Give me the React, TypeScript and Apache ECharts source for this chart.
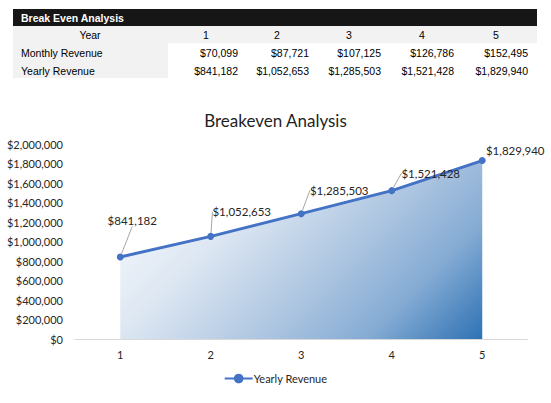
import React, { useEffect, useRef } from 'react';
import * as echarts from 'echarts';

// data
const years = ['1', '2', '3', '4', '5'];
const monthlyRevenue = [70099, 87721, 107125, 126786, 152495];
const yearlyRevenue = [841182, 1052653, 1285503, 1521428, 1829940];
const yTicks = { min: 0, max: 2000000, interval: 200000 };

// layout constants for the table and the data labels
const colRight = [238, 309, 381, 454, 528];
const labelShift = [
  [12, -22],
  [31, -10],
  [38, -9],
  [39, -3],
  [33, 4]
];

const money = (v: number) => '$' + v.toLocaleString('en-US');

const tableFont = '"Liberation Sans", Arial, sans-serif';
const chartFont = 'Lato, "Open Sans", sans-serif';

const tableText = (text: string, x: number, y: number, align = 'left', extra: any = {}) => ({
  type: 'text',
  x,
  y,
  silent: true,
  style: {
    text,
    fill: '#000',
    fontSize: 10.5,
    fontFamily: tableFont,
    align,
    verticalAlign: 'middle',
    ...extra
  }
});

const buildTable = () => {
  const els: any[] = [
    { type: 'rect', silent: true, shape: { x: 13, y: 9, width: 524, height: 17 }, style: { fill: '#161616' } },
    { type: 'rect', silent: true, shape: { x: 13, y: 26, width: 524, height: 17 }, style: { fill: '#f2f2f2' } },
    { type: 'rect', silent: true, shape: { x: 13, y: 43, width: 155, height: 35 }, style: { fill: '#f2f2f2' } },
    tableText('Break Even Analysis', 21, 18, 'left', { fill: '#fff', fontWeight: 'bold' }),
    tableText('Year', 90, 35, 'center'),
    tableText('Monthly Revenue', 21, 53),
    tableText('Yearly Revenue', 21, 71)
  ];
  years.forEach((y, i) => {
    els.push(tableText(y, colRight[i] - 32, 35, 'center'));
    els.push(tableText(money(monthlyRevenue[i]), colRight[i], 53, 'right'));
    els.push(tableText(money(yearlyRevenue[i]), colRight[i], 71, 'right'));
  });
  return els;
};

const gradientStops = [
  { offset: 0, color: '#ffffff' },
  { offset: 0.33, color: '#dce6f2' },
  { offset: 0.6, color: '#abc4e0' },
  { offset: 0.78, color: '#86acd4' },
  { offset: 1, color: '#2e72b4' }
];

const App: React.FC = () => {
  const chartRef = useRef<HTMLDivElement>(null);

  useEffect(() => {
    if (!chartRef.current) return;
    const chart = echarts.init(chartRef.current, undefined, { renderer: 'svg' });

    const option: any = {
      animation: false,
      backgroundColor: '#fff',
      textStyle: { fontFamily: chartFont },
      title: {
        text: 'Breakeven Analysis',
        left: 'center',
        top: 107,
        textStyle: { fontSize: 17, fontWeight: 'normal', color: '#1f1f1f', fontFamily: chartFont }
      },
      legend: {
        bottom: 14,
        left: 'center',
        itemWidth: 28,
        itemHeight: 12,
        itemGap: 10,
        textStyle: { fontSize: 11, color: '#262626', fontFamily: chartFont, padding: [0, 0, 0, -4] },
        data: ['Yearly Revenue']
      },
      grid: { left: 75, right: 23.5, top: 144, bottom: 64 },
      xAxis: {
        type: 'category',
        data: years,
        boundaryGap: true,
        axisLine: { lineStyle: { color: '#d9d9d9', width: 1 } },
        axisTick: { show: false },
        axisLabel: { color: '#262626', fontSize: 11, margin: 10, fontFamily: chartFont }
      },
      yAxis: {
        type: 'value',
        min: yTicks.min,
        max: yTicks.max,
        interval: yTicks.interval,
        axisLine: { show: false },
        axisTick: { show: false },
        splitLine: { show: false },
        axisLabel: {
          color: '#262626',
          fontSize: 11,
          margin: 12,
          fontFamily: chartFont,
          formatter: (v: number) => money(v)
        }
      },
      series: [
        {
          name: 'Yearly Revenue',
          type: 'line',
          data: yearlyRevenue.map((v, i) =>
            i === yearlyRevenue.length - 1 ? { value: v, labelLine: { show: false } } : v
          ),
          symbol: 'circle',
          symbolSize: 7,
          lineStyle: { color: '#4472c4', width: 3 },
          itemStyle: { color: '#4472c4' },
          areaStyle: {
            opacity: 1,
            color: new echarts.graphic.LinearGradient(0, 0, 1, 1, gradientStops)
          },
          label: {
            show: true,
            position: 'top',
            distance: 5,
            fontSize: 11.5,
            color: '#262626',
            fontFamily: chartFont,
            formatter: (p: any) => money(p.value)
          },
          labelLine: {
            show: true,
            lineStyle: { color: '#a6a6a6', width: 1 }
          },
          labelLayout: (p: any) => ({
            dx: labelShift[p.dataIndex][0],
            dy: labelShift[p.dataIndex][1]
          })
        }
      ],
      graphic: buildTable()
    };

    chart.setOption(option);

    // 45° gradient in pixel space over the area's bounding box
    const last = years.length - 1;
    const topLeft = chart.convertToPixel({ gridIndex: 0 }, [0, Math.max(...yearlyRevenue)]) as number[];
    const bottomRight = chart.convertToPixel({ gridIndex: 0 }, [last, 0]) as number[];
    const span = (bottomRight[0] - topLeft[0] + bottomRight[1] - topLeft[1]) / 2;
    chart.setOption({
      series: [
        {
          areaStyle: {
            color: new echarts.graphic.LinearGradient(
              topLeft[0],
              topLeft[1],
              topLeft[0] + span,
              topLeft[1] + span,
              gradientStops,
              true
            )
          }
        }
      ]
    });

    return () => {
      chart.dispose();
    };
  }, []);

  return (
    <div
      ref={chartRef}
      style={{ position: 'absolute', left: 0, top: 0, width: '551px', height: '403px' }}
    />
  );
};

export default App;
